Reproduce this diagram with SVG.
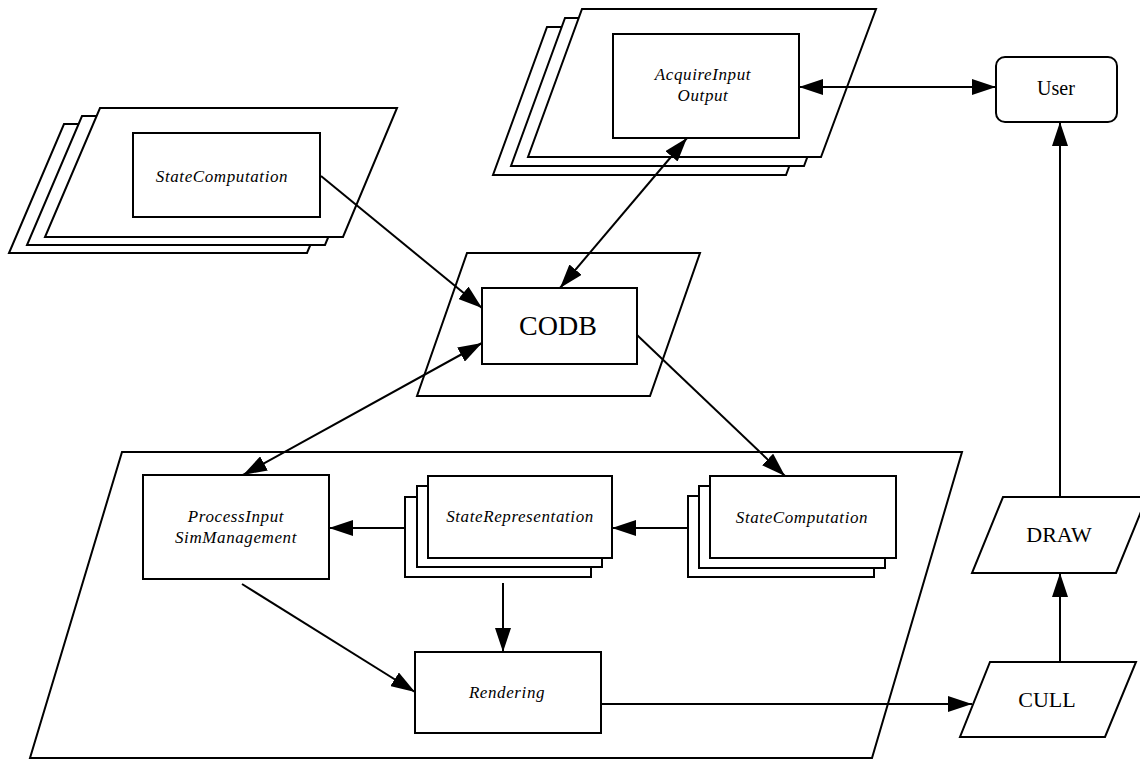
<svg xmlns="http://www.w3.org/2000/svg" width="1140" height="760" viewBox="0 0 1140 760">
  <style>
    .shape { fill: #fff; stroke: #000; stroke-width: 2; stroke-linejoin: miter; }
    .conn { fill: none; stroke: #000; stroke-width: 2; }
    .lbl { font-family: "Liberation Serif", "Times New Roman", serif; font-style: italic; font-size: 17px; letter-spacing: 0.6px; text-anchor: middle; fill: #000; }
    .big { font-family: "Liberation Serif", "Times New Roman", serif; text-anchor: middle; fill: #000; }
  </style>
  <defs>
    <marker id="arrow" viewBox="0 0 24 16" refX="24" refY="8" markerWidth="24" markerHeight="16" markerUnits="userSpaceOnUse" orient="auto-start-reverse">
      <path d="M0,0 L24,8 L0,16 Z" fill="#000"/>
    </marker>
  </defs>
  <rect width="1140" height="760" fill="#fff"/>

  <!-- replicated state computation process (upper left) -->
  <g id="stateComputationStack">
    <polygon class="shape" points="64,124 361,124 307,253 9,253"/>
    <polygon class="shape" points="82,116 379,116 325,245 27,245"/>
    <polygon class="shape" points="100,108 397,108 343,237 45,237"/>
    <rect class="shape" x="133" y="133" width="187" height="84"/>
    <text class="lbl" x="222" y="182">StateComputation</text>
  </g>

  <!-- replicated input/output process (upper middle) -->
  <g id="acquireInputStack">
    <polygon class="shape" points="547,27 841,27 786,175 493,175"/>
    <polygon class="shape" points="565,18 859,18 804,166 511,166"/>
    <polygon class="shape" points="582,9 876,9 821,157 528,157"/>
    <rect class="shape" x="613" y="34" width="186" height="104"/>
    <text class="lbl" x="703" y="80">AcquireInput</text>
    <text class="lbl" x="703" y="101">Output</text>
  </g>

  <!-- user -->
  <g id="user">
    <rect class="shape" x="996" y="57" width="121" height="65" rx="9" ry="9"/>
    <text class="big" x="1056" y="95" font-size="20">User</text>
  </g>

  <!-- shared database -->
  <g id="codb">
    <polygon class="shape" points="467,253 700,253 650,396 417,396"/>
    <rect class="shape" x="482" y="288" width="155" height="76"/>
    <text class="big" x="558" y="335" font-size="28">CODB</text>
  </g>

  <!-- local simulation process -->
  <g id="simulationProcess">
    <polygon class="shape" points="122,452 962,452 872,758 30,758"/>
  </g>

  <g id="processInput">
    <rect class="shape" x="143" y="475" width="186" height="104"/>
    <text class="lbl" x="236" y="522">ProcessInput</text>
    <text class="lbl" x="236" y="543">SimManagement</text>
  </g>

  <g id="stateRepresentation">
    <rect class="shape" x="405" y="497" width="186" height="80"/>
    <rect class="shape" x="417" y="486" width="185" height="81"/>
    <rect class="shape" x="428" y="476" width="184" height="82"/>
    <text class="lbl" x="520" y="522">StateRepresentation</text>
  </g>

  <g id="stateComputationLocal">
    <rect class="shape" x="688" y="496" width="186" height="81"/>
    <rect class="shape" x="699" y="486" width="186" height="82"/>
    <rect class="shape" x="710" y="476" width="186" height="82"/>
    <text class="lbl" x="802" y="523">StateComputation</text>
  </g>

  <g id="rendering">
    <rect class="shape" x="415" y="652" width="186" height="81"/>
    <text class="lbl" x="507" y="698">Rendering</text>
  </g>

  <!-- graphics pipeline stages -->
  <g id="cull">
    <polygon class="shape" points="990,662 1136,662 1105,737 960,737"/>
    <text class="big" x="1047" y="707" font-size="22">CULL</text>
  </g>

  <g id="draw">
    <polygon class="shape" points="1003,497 1147,497 1116,573 972,573"/>
    <text class="big" x="1059" y="542" font-size="22">DRAW</text>
  </g>

  <!-- connectors -->
  <g id="connectors">
    <line class="conn" x1="799" y1="87" x2="996" y2="87" marker-start="url(#arrow)" marker-end="url(#arrow)"/>
    <line class="conn" x1="321" y1="176" x2="482" y2="308" marker-end="url(#arrow)"/>
    <line class="conn" x1="687" y1="138" x2="560" y2="288" marker-start="url(#arrow)" marker-end="url(#arrow)"/>
    <line class="conn" x1="243" y1="475" x2="482" y2="343" marker-start="url(#arrow)" marker-end="url(#arrow)"/>
    <line class="conn" x1="637" y1="335" x2="785" y2="476" marker-end="url(#arrow)"/>
    <line class="conn" x1="405" y1="528" x2="329" y2="528" marker-end="url(#arrow)"/>
    <line class="conn" x1="688" y1="528" x2="612" y2="528" marker-end="url(#arrow)"/>
    <line class="conn" x1="503" y1="583" x2="503" y2="652" marker-end="url(#arrow)"/>
    <line class="conn" x1="242" y1="584" x2="415" y2="692" marker-end="url(#arrow)"/>
    <line class="conn" x1="601" y1="704" x2="972" y2="704" marker-end="url(#arrow)"/>
    <line class="conn" x1="1060" y1="662" x2="1060" y2="573" marker-end="url(#arrow)"/>
    <line class="conn" x1="1060" y1="497" x2="1060" y2="122" marker-end="url(#arrow)"/>
  </g>
</svg>
